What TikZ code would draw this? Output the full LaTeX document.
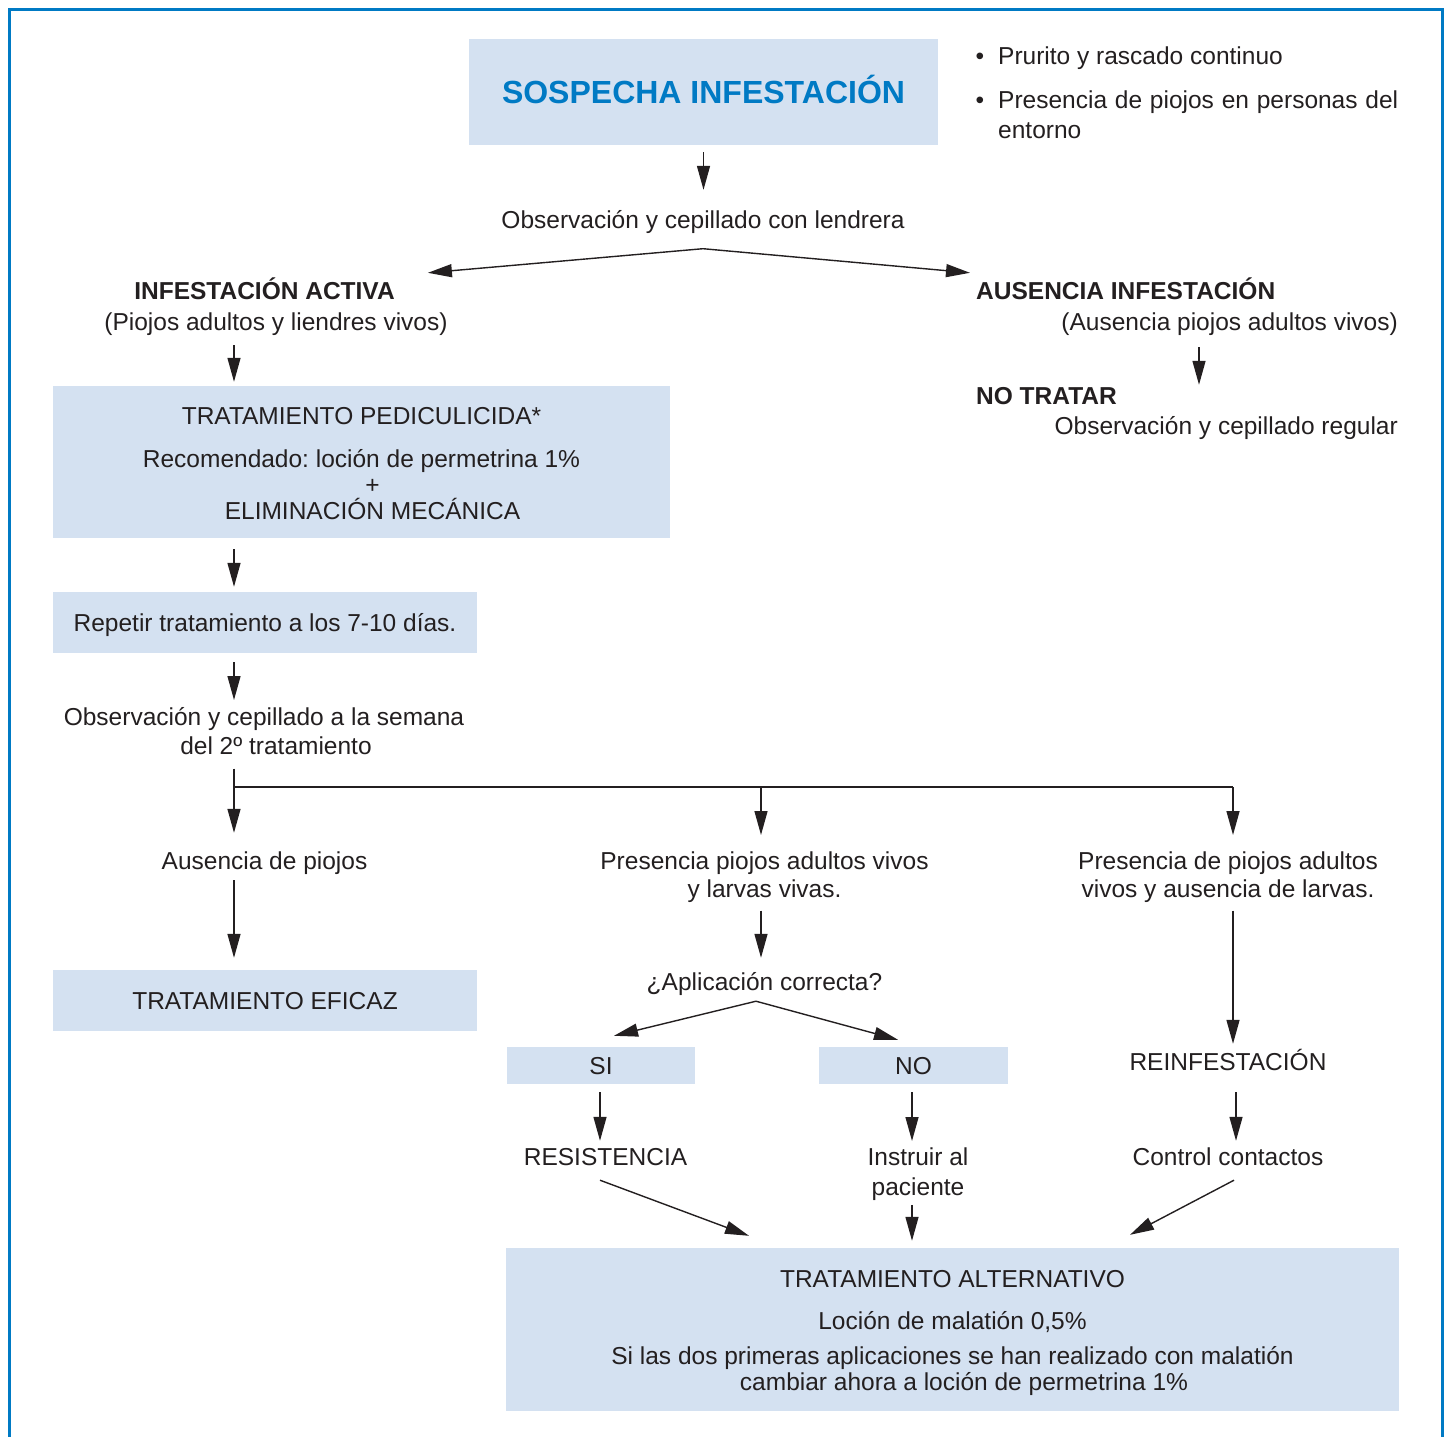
\documentclass[tikz,border=0pt]{standalone}
\usepackage{fontspec}
\setmainfont{Liberation Sans}
\usetikzlibrary{arrows.meta,calc}
\definecolor{frameblue}{RGB}{0,122,196}
\definecolor{boxfill}{RGB}{212,225,241}
\definecolor{ink}{RGB}{35,31,32}
\frenchspacing
\begin{document}
\begin{tikzpicture}[x=1pt,y=-1pt,
  every node/.style={text=ink},
  txt/.style={inner sep=0pt, font=\fontsize{24.5}{29}\selectfont, text height=18pt, text depth=5pt},
  btxt/.style={txt, font=\fontsize{24.5}{29}\selectfont\bfseries},
  mtxt/.style={inner sep=0pt, align=center},
  box/.style={fill=boxfill, draw=none, inner sep=0pt},
  sbox/.style={box, font=\fontsize{24.5}{29}\selectfont, text height=17.5pt, text depth=0pt},
  arr/.style={draw=ink, line width=1.4pt, -{Triangle[length=24pt,width=13pt]}},
  ln/.style={draw=ink, line width=1.4pt}]
\useasboundingbox (0,0) rectangle (1448,1437);
\draw[frameblue, line width=3pt] (9,1437) -- (9,10) -- (1442,10) -- (1442,1437);

% columns
\coordinate (colL) at (234,0);
\coordinate (colM) at (761,0);
\coordinate (colR) at (1233,0);
\coordinate (colN) at (1199,0);
\coordinate (jn) at (234,787);

% top
\node[box, minimum width=469pt, minimum height=106pt, text height=23pt, text depth=0pt,
      font=\fontsize{32}{36}\selectfont\bfseries, text=frameblue] (title) at (703.5,92) {SOSPECHA INFESTACIÓN};
\node[txt, anchor=base west] (bul1) at (975.5,64) {\makebox[22.5pt][l]{•}Prurito y rascado continuo};
\node[inner sep=0pt, anchor=north west, align=left, font=\fontsize{24.5}{29.5}\selectfont] (bul2) at (975.5,90.8)
  {\makebox[22.5pt][l]{•}\makebox[400pt][s]{Presencia de piojos en personas del}\\\hspace*{22.5pt}entorno};

\node[txt] (obs1) at (703,222) {Observación y cepillado con lendrera};
\coordinate (sp1) at ($(obs1.south)+(0,15)$);

\node[btxt] (act) at (264.5,293) {INFESTACIÓN ACTIVA};
\node[txt] (actsub) at (276,324) {(Piojos adultos y liendres vivos)};
\node[btxt, anchor=west] (aus) at (976,293) {AUSENCIA INFESTACIÓN};
\node[txt, anchor=east] (aussub) at (1398,324) {(Ausencia piojos adultos vivos)};
\node[btxt, anchor=west] (notr) at (976,398) {NO TRATAR};
\node[txt, anchor=east] (notrsub) at (1398,428) {Observación y cepillado regular};

% left column
\node[box, minimum width=617pt, minimum height=152pt, mtxt, font=\fontsize{24.5}{26}\selectfont] (trat) at (361.5,462)
  {\rule{0pt}{20.5pt}TRATAMIENTO PEDICULICIDA*\\[17pt]Recomendado: loción de permetrina 1\%\\\hspace*{22pt}+\\\hspace*{22pt}ELIMINACIÓN MECÁNICA};
\node[sbox, minimum width=424pt, minimum height=61pt] (rep) at (265,622.5) {Repetir tratamiento a los 7-10 días.};
\node[mtxt, anchor=north, font=\fontsize{24.5}{29}\selectfont] (obs2) at (264,707.5)
  {Observación y cepillado a la semana\\\hspace*{24pt}del 2º tratamiento};
\node[txt] (aus2) at (264.5,863) {Ausencia de piojos};
\node[sbox, minimum width=424pt, minimum height=61pt] (eficaz) at (265,1000.5) {TRATAMIENTO EFICAZ};

% middle column
\node[mtxt, anchor=north, font=\fontsize{24.5}{28}\selectfont] (pres1) at (764.5,852)
  {Presencia piojos adultos vivos\\y larvas vivas.};
\node[txt] (apl) at (764.5,984) {¿Aplicación correcta?};
\coordinate (sp2) at ($(apl.south)+(-8.5,5.5)$);
\node[sbox, minimum width=188pt, minimum height=37pt] (si) at (601,1065.5) {SI};
\node[sbox, minimum width=189pt, minimum height=37pt] (no) at (913.5,1065.5) {NO};
\node[txt] (res) at (605.5,1159) {RESISTENCIA};
\node[mtxt, anchor=north, font=\fontsize{24.5}{30}\selectfont] (instr) at (918,1148) {Instruir al\\paciente};

% right column
\node[mtxt, anchor=north, font=\fontsize{24.5}{28}\selectfont] (pres2) at (1228,852)
  {Presencia de piojos adultos\\vivos y ausencia de larvas.};
\node[txt] (reinf) at (1228,1064) {REINFESTACIÓN};
\node[txt] (ctrl) at (1228,1159) {Control contactos};

% bottom box
\node[box, minimum width=893pt, minimum height=163pt, mtxt, font=\fontsize{24.5}{26}\selectfont] (alt) at (952.5,1329.5)
  {\rule{0pt}{23.5pt}TRATAMIENTO ALTERNATIVO\\[16pt]Loción de malatión 0,5\%\\[9pt]Si las dos primeras aplicaciones se han realizado con malatión\\\hspace*{23pt}cambiar ahora a loción de permetrina 1\%};

% connectors
\draw[arr] (title.south |- 0,152) -- ($(obs1.north -| title.south)+(0,-20.5)$);
\draw[arr] (sp1) -- ($(act.north east)+(33,-8.5)$);
\draw[arr] (sp1) -- ($(aus.north west)+(-6,-8.5)$);
\draw[arr] ($(aussub.south -| colN)+(0,11.5)$) -- ($(notr.north -| colN)+(0,-1.5)$);
\draw[arr] ($(actsub.south -| colL)+(0,9.5)$) -- ($(trat.north -| colL)+(0,-4)$);
\draw[arr] ($(trat.south -| colL)+(0,11)$) -- ($(rep.north -| colL)+(0,-5)$);
\draw[arr] ($(rep.south -| colL)+(0,9)$) -- ($(obs2.north -| colL)+(0,-7.5)$);
\draw[arr] ($(obs2.south -| colL)+(0,13.5)$) -- ($(aus2.north -| colL)+(0,-18.5)$);
\draw[ln] (jn) -- (jn -| colR);
\draw[arr] (jn -| colM) -- ($(pres1.north -| colM)+(0,-17)$);
\draw[arr] (jn -| colR) -- ($(pres2.north -| colR)+(0,-17)$);
\draw[arr] ($(aus2.south -| colL)+(0,5.5)$) -- ($(eficaz.north -| colL)+(0,-12)$);
\draw[arr] ($(pres1.south -| colM)+(0,7.5)$) -- ($(apl.north -| colM)+(0,-14.5)$);
\draw[arr] (sp2) -- ($(si.north)+(13,-11)$);
\draw[arr] (sp2) -- ($(no.north)+(-15.5,-7)$);
\draw[arr] ($(si.south)+(-1,8)$) -- ($(res.north -| si.south)+(-1,-6.5)$);
\draw[arr] ($(no.south)+(-1.5,8)$) -- ($(instr.north -| no.south)+(-1.5,-7)$);
\draw[arr] ($(res.south)+(-5.5,9.5)$) -- ($(alt.north)+(-203.5,-12)$);
\draw[arr] ($(instr.south -| no.south)+(-1.5,3.5)$) -- ($(alt.north -| no.south)+(-1.5,-7)$);
\draw[arr] ($(pres2.south -| colR)+(0,7.5)$) -- ($(reinf.north -| colR)+(0,-8.5)$);
\draw[arr] ($(reinf.south)+(8,16.5)$) -- ($(ctrl.north)+(8,-6.5)$);
\draw[arr] ($(ctrl.south)+(6,9.5)$) -- ($(alt.north)+(177.5,-13)$);
\end{tikzpicture}
\end{document}
